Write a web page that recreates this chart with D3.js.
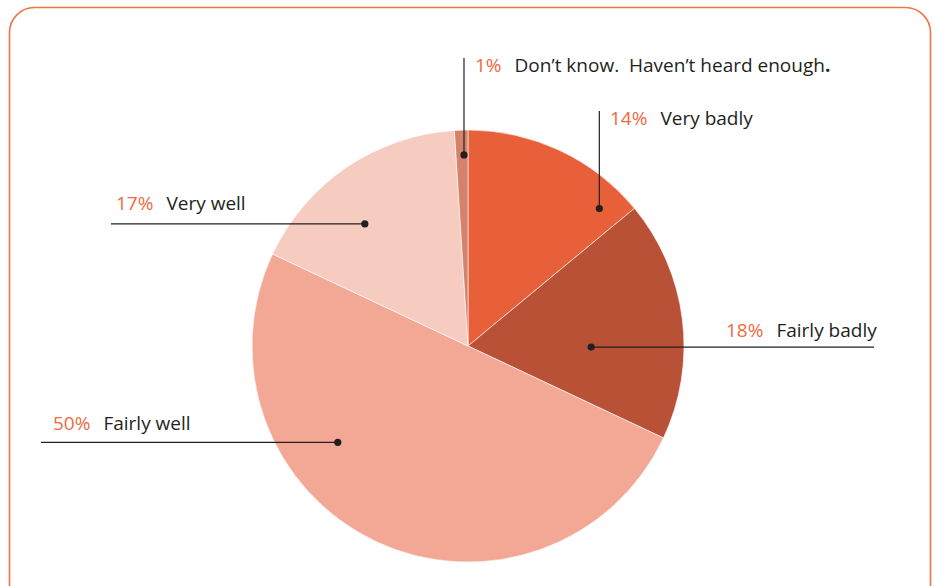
<!DOCTYPE html>
<meta charset="utf-8">
<script src="https://d3js.org/d3.v7.min.js"></script>
<style>
  body { margin: 0; background: #fff; }
  text { font-family: "Open Sans", sans-serif; font-size: 19px; white-space: pre; }
</style>
<div id="my_dataviz"></div>
<script>

// data: slices clockwise from 12 o'clock
var categories = ["Very badly", "Fairly badly", "Fairly well", "Very well", "Don\u2019t know.  Haven\u2019t heard enough"];
var values = [14, 18, 50, 17, 1];
var colors = ["#E8603A", "#B85135", "#F3A795", "#F6CBC0", "#D4826A"];

// where each callout dot sits: angle (deg, clockwise from top) and fraction of radius
var dotAngle = [43.7, 90.5, 233.5, 319.8, 358.8];
var dotRadius = [0.88, 0.57, 0.75, 0.74, 0.885];
// callout type and text placement
var callType = ["up", "right", "left", "left", "up"];
var textPos = [[610, 125], [726, 337], [53, 430], [116, 210], [475, 72]];
var lineEnd = [111, 874, 41, 111, 58];

var width = 936, height = 586,
    cx = 468, cy = 346, radius = 216;

var svg = d3.select("#my_dataviz")
  .append("svg")
    .attr("width", width)
    .attr("height", height);

// rounded frame
svg.append("rect")
    .attr("x", 9.5).attr("y", 7.5)
    .attr("width", 921).attr("height", 620)
    .attr("rx", 25).attr("ry", 25)
    .attr("fill", "none")
    .attr("stroke", "#F07444")
    .attr("stroke-width", 1.6);

var g = svg.append("g")
    .attr("transform", "translate(" + cx + "," + cy + ")");

var pie = d3.pie().sort(null).value(function(d) { return d; });
var arc = d3.arc().innerRadius(0).outerRadius(radius);

g.selectAll("path")
  .data(pie(values))
  .enter()
  .append("path")
    .attr("d", arc)
    .attr("fill", function(d, i) { return colors[i]; })
    .attr("stroke", "#fff")
    .attr("stroke-width", 0.6);

// polar position of a dot in page coords
function dotXY(i) {
  var a = dotAngle[i] * Math.PI / 180, r = dotRadius[i] * radius;
  return [cx + r * Math.sin(a), cy - r * Math.cos(a)];
}

values.forEach(function(v, i) {
  var p = dotXY(i);
  var x2 = p[0], y2 = p[1];
  if (callType[i] == "up") y2 = lineEnd[i];
  else x2 = lineEnd[i];

  svg.append("line")
      .attr("x1", p[0]).attr("y1", p[1])
      .attr("x2", x2).attr("y2", y2)
      .attr("stroke", "#231F20")
      .attr("stroke-width", 1.2);

  svg.append("circle")
      .attr("cx", p[0]).attr("cy", p[1])
      .attr("r", 3.6)
      .attr("fill", "#231F20");

  var t = svg.append("text")
      .attr("x", textPos[i][0])
      .attr("y", textPos[i][1]);
  t.append("tspan")
      .attr("fill", "#EF6A42")
      .text(v + "%");
  t.append("tspan")
      .attr("dx", 13)
      .attr("fill", "#231F20")
      .text(categories[i]);
  if (i == 4) {
    t.append("tspan").attr("fill", "#231F20").attr("font-weight", "bold").text(".");
  }
});

</script>
